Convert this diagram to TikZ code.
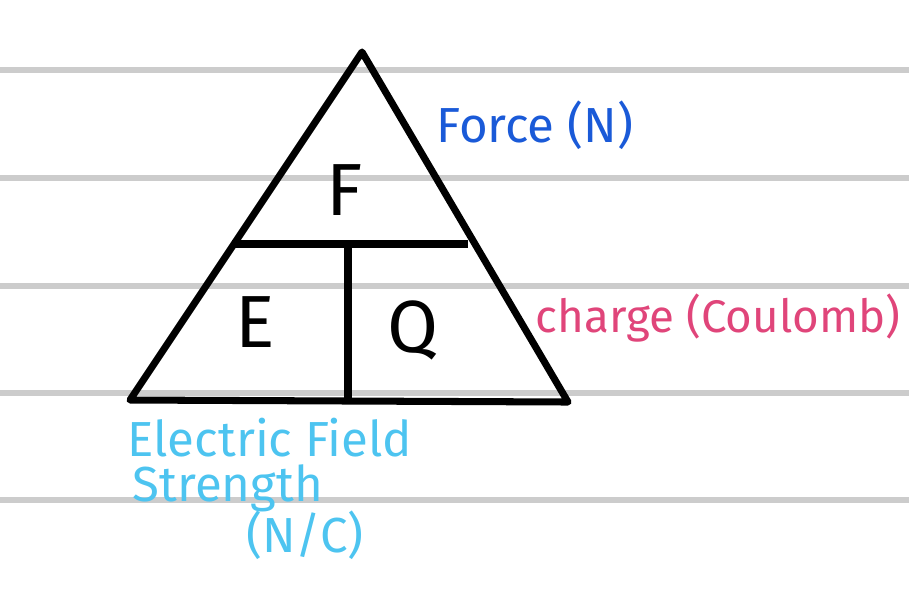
\documentclass[tikz,border=0pt]{standalone}
\usepackage{fontspec}
\setmainfont{Fira Sans}
\usepackage{tikz}
\definecolor{forceblue}{HTML}{1A5AD8}
\definecolor{chargepink}{HTML}{E0457A}
\definecolor{fieldcyan}{HTML}{4DC4F0}
\begin{document}
\begin{tikzpicture}[x=0.01cm,y=-0.01cm]
        \useasboundingbox (0,0) rectangle (909,602);
        % Ruled lines
        \foreach \ypos in {70,178,286,393,500}
            \draw[black!20, line width=1.6pt] (0,\ypos) -- (909,\ypos);

        % Triangle
        \draw[black, line width=2pt, line join=round] (362,52) -- (130,400) -- (568,402) -- cycle;
        \draw[black, line width=2pt] (232,244) -- (468,244)
        (348,244) -- (348,400);

        % Quantities
        \node (F) at (345,190) {\fontsize{21}{21}\selectfont F};
        \node (E) at (255,322) {\fontsize{21}{21}\selectfont E};
        \node (Q) at (413,330) {\fontsize{21}{21}\selectfont Q};

        % Labels
        \node[color=forceblue] (force) at (535,125) {\fontsize{14}{14}\selectfont Force (N)};
        \node[color=chargepink] (charge) at (718,318) {\fontsize{13}{13}\selectfont charge (Coulomb)};
        \node[color=fieldcyan] (field1) at (270,438) {\fontsize{14}{14}\selectfont Electric Field};
        \node[color=fieldcyan] (field2) at (228,488) {\fontsize{14}{14}\selectfont Strength};
        \node[color=fieldcyan] (field3) at (305,535) {\fontsize{14}{14}\selectfont (N/C)};
    \end{tikzpicture}
\end{document}
